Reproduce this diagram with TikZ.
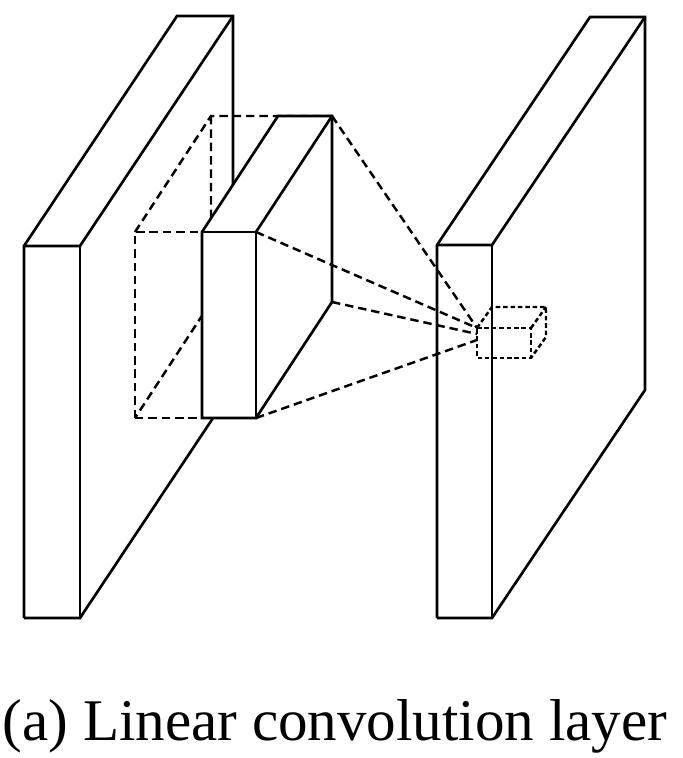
\documentclass[tikz,border=0pt]{standalone}
\usepackage{fontspec}
\setmainfont{Liberation Serif}
\usetikzlibrary{calc}

\begin{document}
\begin{tikzpicture}[x=0.01cm, y=-0.01cm, line join=miter,
    edge/.style={line width=0.75pt},
    guide/.style={line width=0.7pt, dash pattern=on 2.4pt off 1.4pt},
    cubeguide/.style={line width=0.7pt, dash pattern=on 1.3pt off 0.8pt}]
  \useasboundingbox (0,0) rectangle (682,758);
  % input feature map
  \coordinate (in-tl) at (24,246);
  \coordinate (in-tr) at (80,246);
  \coordinate (in-br) at (80,618);
  \coordinate (in-bl) at (24,618);
  \draw[edge] (in-bl) -- (in-tl) -- ($(in-tl)+(153,-230)$) -- ($(in-tr)+(153,-230)$)
    -- ($(in-br)+(153,-230)$) -- (in-br) -- (in-bl);
  \draw[edge] (in-tl) -- (in-tr) -- ($(in-tr)+(153,-230)$);
  \draw[edge] (in-tr) -- (in-br);
  % receptive field (dashed)
  \coordinate (rf-tl) at (135,232);
  \coordinate (rf-bl) at (135,418);
  \draw[guide] (rf-bl) -- (rf-tl) -- (256,232);
  \draw[guide] (rf-bl) -- (256,418);
  \draw[guide] (rf-tl) -- ($(rf-tl)+(76,-116)$) -- (332,116);
  \draw[guide] ($(rf-tl)+(76,-116)$) -- ($(rf-bl)+(76,-116)$) -- (rf-bl);
  % kernel
  \coordinate (k-tl) at (202,232);
  \coordinate (k-tr) at (256,232);
  \coordinate (k-br) at (256,418);
  \coordinate (k-bl) at (202,418);
  \coordinate (k-btr) at ($(k-tr)+(76,-116)$);
  \coordinate (k-bbr) at ($(k-br)+(76,-116)$);
  \filldraw[edge, fill=white] (k-tl) -- ($(k-tl)+(76,-116)$) -- (k-btr) -- (k-bbr)
    -- (k-br) -- (k-bl) -- cycle;
  \draw[edge] (k-tl) -- (k-tr) -- (k-br);
  \draw[edge] (k-tr) -- (k-btr);
  % output feature map
  \coordinate (out-tl) at (437,245);
  \coordinate (out-tr) at (492,245);
  \coordinate (out-br) at (492,618);
  \coordinate (out-bl) at (437,618);
  \draw[edge] (out-bl) -- (out-tl) -- ($(out-tl)+(153,-228)$) -- ($(out-tr)+(153,-228)$)
    -- ($(out-br)+(153,-228)$) -- (out-br) -- (out-bl);
  \draw[edge] (out-tl) -- (out-tr) -- ($(out-tr)+(153,-228)$);
  \draw[edge] (out-tr) -- (out-br);
  % output cell
  \coordinate (c-tl) at (477,328);
  \coordinate (c-tr) at (531,328);
  \coordinate (c-br) at (531,358);
  \coordinate (c-bl) at (477,358);
  \draw[cubeguide] (c-tl) -- (c-tr) -- (c-br) -- (c-bl) -- cycle;
  \draw[cubeguide] (c-tl) -- ($(c-tl)+(15,-21)$) -- ($(c-tr)+(15,-21)$)
    -- ($(c-br)+(15,-21)$) -- (c-br);
  \draw[cubeguide] (c-tr) -- ($(c-tr)+(15,-21)$);
  \coordinate (c-in1) at (477,334);
  \coordinate (c-in2) at (477,340);
  % projection lines
  \foreach \a/\b in {k-tr/c-tl, k-btr/c-tl, k-bbr/c-in1, k-br/c-in2}
    \draw[guide] (\a) -- (\b);
  \node[font=\fontsize{16.8}{20}\selectfont, anchor=base] (caption) at (335,740)
    {(a) Linear convolution layer};
\end{tikzpicture}
\end{document}
